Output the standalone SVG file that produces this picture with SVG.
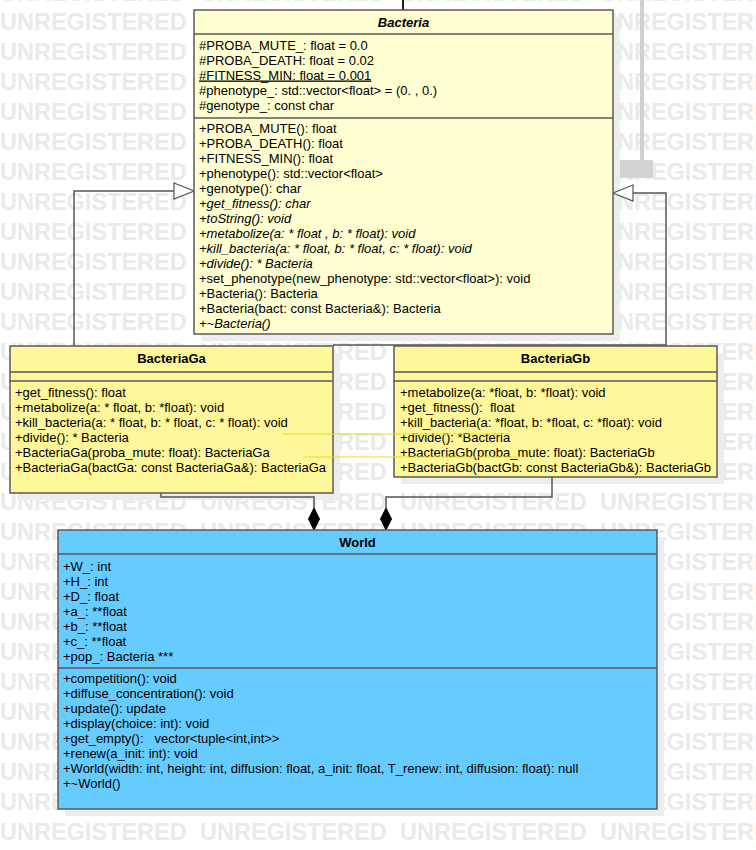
<svg xmlns="http://www.w3.org/2000/svg" xmlns:xlink="http://www.w3.org/1999/xlink" width="756" height="850" viewBox="0 0 756 850">
<style>
.wm{font-family:"Liberation Sans",Arial,sans-serif;font-size:23.5px;font-weight:bold;fill:#eaeaea}
.t{font-family:"Liberation Sans",Arial,sans-serif;font-size:13px;fill:#000}
.i{font-style:italic}
.h{font-family:"Liberation Sans",Arial,sans-serif;font-size:13px;font-weight:bold;text-anchor:middle;fill:#000}
.box{stroke:#5a5a5a;stroke-width:1.5}
.sep{stroke:#5a5a5a;stroke-width:1.5}
.sh{fill:#ededed}
.ln{fill:none;stroke:#555;stroke-width:1.5}
.tri{fill:#fff;stroke:#555;stroke-width:1.2}
.dia{fill:#000;stroke:#000;stroke-width:1}
.yl{stroke:#e6dc22;stroke-width:1}
</style>
<defs>
<text id="wmrow" class="wm"><tspan x="0">UNREGISTERED</tspan><tspan x="200">UNREGISTERED</tspan><tspan x="400">UNREGISTERED</tspan><tspan x="600">UNREGISTERED</tspan></text>
</defs>
<rect width="756" height="850" fill="#fff"/>
<g id="watermark">
<use xlink:href="#wmrow" y="1"/><use xlink:href="#wmrow" y="30"/><use xlink:href="#wmrow" y="60"/><use xlink:href="#wmrow" y="90"/><use xlink:href="#wmrow" y="120"/><use xlink:href="#wmrow" y="150"/><use xlink:href="#wmrow" y="180"/><use xlink:href="#wmrow" y="210"/><use xlink:href="#wmrow" y="240"/><use xlink:href="#wmrow" y="270"/><use xlink:href="#wmrow" y="300"/><use xlink:href="#wmrow" y="330"/><use xlink:href="#wmrow" y="360"/><use xlink:href="#wmrow" y="390"/><use xlink:href="#wmrow" y="420"/><use xlink:href="#wmrow" y="450"/><use xlink:href="#wmrow" y="480"/><use xlink:href="#wmrow" y="510"/><use xlink:href="#wmrow" y="540"/><use xlink:href="#wmrow" y="570"/><use xlink:href="#wmrow" y="600"/><use xlink:href="#wmrow" y="630"/><use xlink:href="#wmrow" y="660"/><use xlink:href="#wmrow" y="690"/><use xlink:href="#wmrow" y="720"/><use xlink:href="#wmrow" y="750"/><use xlink:href="#wmrow" y="780"/><use xlink:href="#wmrow" y="810"/><use xlink:href="#wmrow" y="840"/>
</g>
<g id="deco">
<line x1="642" y1="0" x2="642" y2="160" stroke="#d0d0d0" stroke-width="4"/>
<rect x="615" y="160" width="38" height="18" fill="#d3d3d3"/>
</g>
<g id="shadows">
<rect class="sh" x="201" y="17" width="419" height="324"/>
<rect class="sh" x="17" y="353" width="323" height="147"/>
<rect class="sh" x="401" y="353" width="323" height="131"/>
<rect class="sh" x="65" y="537" width="599" height="279"/>
</g>
<g id="connectors">
<line x1="403" y1="0" x2="403" y2="10" stroke="#222" stroke-width="2"/>
<polyline class="ln" points="74,346 74,191 174,191"/>
<polygon class="tri" points="174,183 194,191 174,199"/>
<polyline class="ln" points="666,346 666,193 633,193"/>
<polygon class="tri" points="633,185 613,193 633,201"/>
<line class="ln" x1="333" y1="345" x2="666" y2="345"/>
<polyline class="ln" points="161,493 161,497 314,497 314,508"/>
<polygon class="dia" points="314,508 319.5,519 314,530 308.5,519"/>
<polyline class="ln" points="552,477 552,497 386,497 386,508"/>
<polygon class="dia" points="386,508 391.5,519 386,530 380.5,519"/>
</g>
<g id="bacteria">
<rect class="box" x="194" y="10" width="419" height="324" fill="#ffffd2"/>
<line class="sep" x1="194" y1="34" x2="613" y2="34"/>
<line class="sep" x1="194" y1="118" x2="613" y2="118"/>
<text class="h i" x="403.5" y="26.5">Bacteria</text>
<text class="t" x="199" y="49.5">#PROBA_MUTE_: float = 0.0</text>
<text class="t" x="199" y="64.5">#PROBA_DEATH: float = 0.02</text>
<text class="t" x="199" y="79.5" text-decoration="underline">#FITNESS_MIN: float = 0.001</text>
<text class="t" x="199" y="94.5">#phenotype_: std::vector&lt;float&gt; = (0. , 0.)</text>
<text class="t" x="199" y="109.5">#genotype_: const char</text>
<text class="t" x="199" y="132.5">+PROBA_MUTE(): float</text>
<text class="t" x="199" y="147.5">+PROBA_DEATH(): float</text>
<text class="t" x="199" y="162.5">+FITNESS_MIN(): float</text>
<text class="t" x="199" y="177.5">+phenotype(): std::vector&lt;float&gt;</text>
<text class="t" x="199" y="192.5">+genotype(): char</text>
<text class="t i" x="199" y="207.5">+get_fitness(): char</text>
<text class="t i" x="199" y="222.5">+toString(): void</text>
<text class="t i" x="199" y="237.5">+metabolize(a: * float , b: * float): void</text>
<text class="t i" x="199" y="252.5">+kill_bacteria(a: * float, b: * float, c: * float): void</text>
<text class="t i" x="199" y="267.5">+divide(): * Bacteria</text>
<text class="t" x="199" y="282.5">+set_phenotype(new_phenotype: std::vector&lt;float&gt;): void</text>
<text class="t" x="199" y="297.5">+Bacteria(): Bacteria</text>
<text class="t" x="199" y="312.5">+Bacteria(bact: const Bacteria&amp;): Bacteria</text>
<text class="t i" x="199" y="327.5">+~Bacteria()</text>
</g>
<g id="bacteriaGa">
<rect class="box" x="10" y="346" width="323" height="147" fill="#fff799"/>
<line class="sep" x1="10" y1="372" x2="333" y2="372"/>
<line class="sep" x1="10" y1="381" x2="333" y2="381"/>
<text class="h" x="171.5" y="363">BacteriaGa</text>
<text class="t" x="15" y="396.5">+get_fitness(): float</text>
<text class="t" x="15" y="411.5">+metabolize(a: * float, b: *float): void</text>
<text class="t" x="15" y="426.5">+kill_bacteria(a: * float, b: * float, c: * float): void</text>
<text class="t" x="15" y="441.5">+divide(): * Bacteria</text>
<text class="t" x="15" y="456.5">+BacteriaGa(proba_mute: float): BacteriaGa</text>
<text class="t" x="15" y="471.5">+BacteriaGa(bactGa: const BacteriaGa&amp;): BacteriaGa</text>
</g>
<g id="bacteriaGb">
<rect class="box" x="394" y="346" width="323" height="131" fill="#fff799"/>
<line class="sep" x1="394" y1="372" x2="717" y2="372"/>
<line class="sep" x1="394" y1="381" x2="717" y2="381"/>
<text class="h" x="555.5" y="363">BacteriaGb</text>
<text class="t" x="400" y="396.5">+metabolize(a: *float, b: *float): void</text>
<text class="t" x="400" y="411.5" xml:space="preserve">+get_fitness():  float</text>
<text class="t" x="400" y="426.5">+kill_bacteria(a: *float, b: *float, c: *float): void</text>
<text class="t" x="400" y="441.5">+divide(): *Bacteria</text>
<text class="t" x="400" y="456.5">+BacteriaGb(proba_mute: float): BacteriaGb</text>
<text class="t" x="400" y="471.5">+BacteriaGb(bactGb: const BacteriaGb&amp;): BacteriaGb</text>
</g>
<g id="world">
<rect class="box" x="58" y="530" width="599" height="279" fill="#66ccff"/>
<line class="sep" x1="58" y1="554" x2="657" y2="554"/>
<line class="sep" x1="58" y1="668" x2="657" y2="668"/>
<text class="h" x="357.5" y="547">World</text>
<text class="t" x="63" y="570.5">+W_: int</text>
<text class="t" x="63" y="585.5">+H_: int</text>
<text class="t" x="63" y="600.5">+D_: float</text>
<text class="t" x="63" y="615.5">+a_: **float</text>
<text class="t" x="63" y="630.5">+b_: **float</text>
<text class="t" x="63" y="645.5">+c_: **float</text>
<text class="t" x="63" y="660.5">+pop_: Bacteria ***</text>
<text class="t" x="63" y="683">+competition(): void</text>
<text class="t" x="63" y="698">+diffuse_concentration(): void</text>
<text class="t" x="63" y="713">+update(): update</text>
<text class="t" x="63" y="728">+display(choice: int): void</text>
<text class="t" x="63" y="743" xml:space="preserve">+get_empty():   vector&lt;tuple&lt;int,int&gt;&gt;</text>
<text class="t" x="63" y="758">+renew(a_init: int): void</text>
<text class="t" x="63" y="773">+World(width: int, height: int, diffusion: float, a_init: float, T_renew: int, diffusion: float): null</text>
<text class="t" x="63" y="788">+~World()</text>
</g>
<g id="overlay">
<line class="yl" x1="282" y1="434" x2="510" y2="434"/>
<line class="yl" x1="303" y1="457" x2="520" y2="457"/>
</g>
</svg>
